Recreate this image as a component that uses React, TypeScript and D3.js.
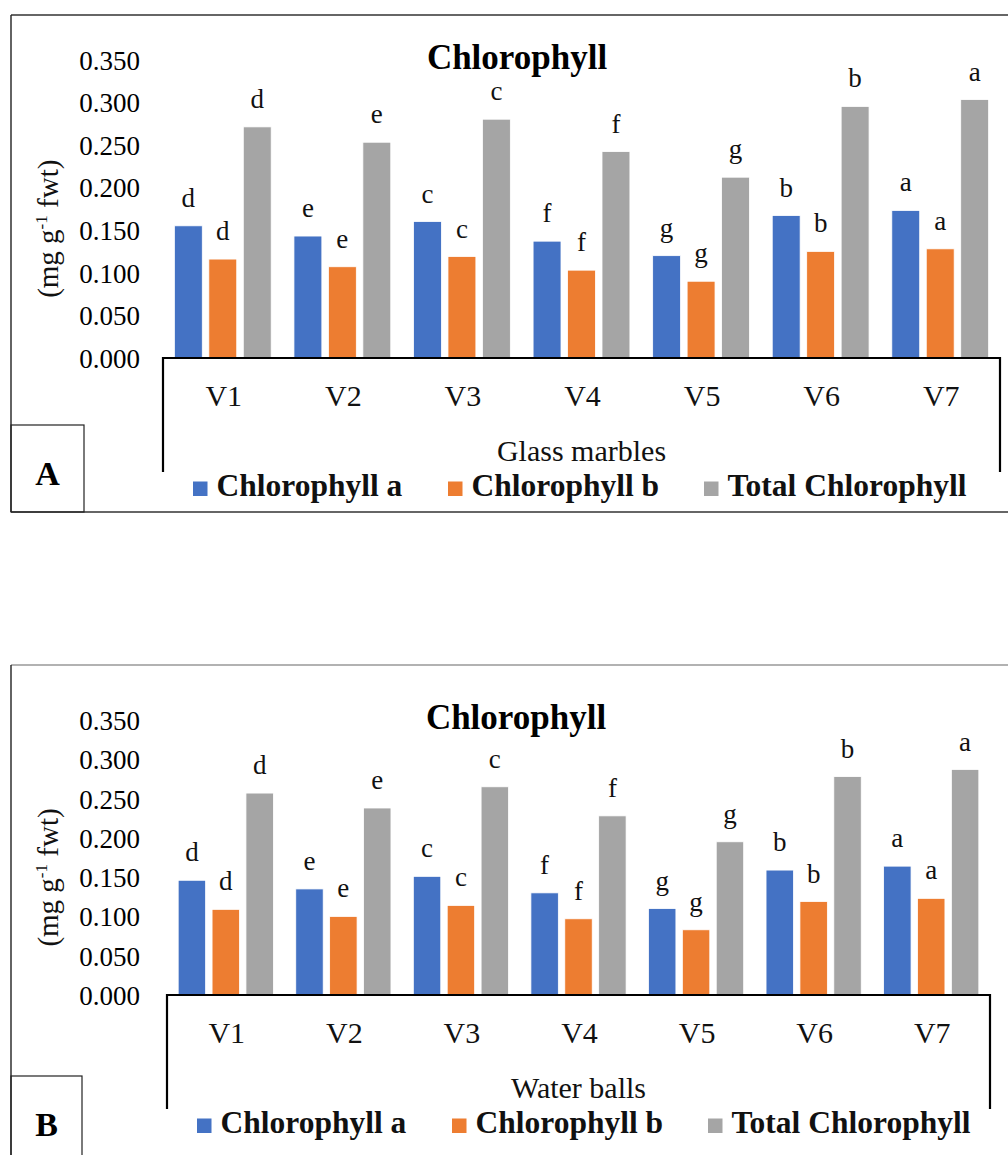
import React, { useRef, useEffect } from 'react';
import * as d3 from 'd3';

// --- data ---
const categories = ['V1', 'V2', 'V3', 'V4', 'V5', 'V6', 'V7'];
const seriesNames = ['Chlorophyll a', 'Chlorophyll b', 'Total Chlorophyll'];
const seriesColors = ['#4472C4', '#ED7D31', '#A5A5A5'];
const yTicks = [0, 0.05, 0.1, 0.15, 0.2, 0.25, 0.3, 0.35];
const letters = ['d', 'e', 'c', 'f', 'g', 'b', 'a'];

// panel A: glass marbles
const glassChlA = [0.155, 0.143, 0.160, 0.137, 0.120, 0.167, 0.173];
const glassChlB = [0.116, 0.107, 0.119, 0.103, 0.090, 0.125, 0.128];
const glassTotal = [0.271, 0.253, 0.280, 0.242, 0.212, 0.295, 0.303];

// panel B: water balls
const waterChlA = [0.146, 0.135, 0.151, 0.130, 0.110, 0.159, 0.164];
const waterChlB = [0.109, 0.100, 0.114, 0.097, 0.083, 0.119, 0.123];
const waterTotal = [0.257, 0.238, 0.265, 0.228, 0.195, 0.278, 0.287];

const FONT = '"Liberation Serif", "Times New Roman", Times, serif';

const panels = [
    {
        tag: 'A', xLabel: 'Glass marbles', series: [glassChlA, glassChlB, glassTotal],
        top: 15, bottom: 512, yZero: 358, yMax: 59.5, xLeft: 163, xRight: 1000,
        tagBoxTop: 425, tagBoxRight: 84, titleX: 517, legendX: 193, topStroke: '#333'
    },
    {
        tag: 'B', xLabel: 'Water balls', series: [waterChlA, waterChlB, waterTotal],
        top: 665, bottom: 1175, yZero: 995, yMax: 720, xLeft: 167, xRight: 990,
        tagBoxTop: 1076, tagBoxRight: 82, titleX: 516, legendX: 197, topStroke: '#999'
    }
];

const drawPanel = (svg, p) => {
    const g = svg.append('g');

    const y = d3.scaleLinear().domain([0, 0.35]).range([p.yZero, p.yMax]);
    const x0 = d3.scaleBand().domain(categories).range([p.xLeft, p.xRight]).padding(0);
    const x1 = d3.scaleBand().domain(seriesNames).range([0, x0.bandwidth()])
        .paddingInner(0.19).paddingOuter(0.33);

    // outer frame (open on the right)
    g.append('line').attr('x1', 11).attr('x2', 1008).attr('y1', p.top).attr('y2', p.top)
        .attr('stroke', p.topStroke).attr('stroke-width', 1.4);
    g.append('line').attr('x1', 11).attr('x2', 11).attr('y1', p.top).attr('y2', p.bottom)
        .attr('stroke', '#222').attr('stroke-width', 1.4);
    g.append('line').attr('x1', 11).attr('x2', 1008).attr('y1', p.bottom).attr('y2', p.bottom)
        .attr('stroke', '#333').attr('stroke-width', 1.4);

    // panel tag box
    g.append('rect').attr('x', 11).attr('y', p.tagBoxTop)
        .attr('width', p.tagBoxRight - 11).attr('height', p.bottom - p.tagBoxTop)
        .attr('fill', 'none').attr('stroke', '#222').attr('stroke-width', 1.2);
    g.append('text').attr('x', (11 + p.tagBoxRight) / 2).attr('y', p.tagBoxTop + 60)
        .attr('text-anchor', 'middle').attr('font-family', FONT).attr('font-weight', 'bold')
        .attr('font-size', 34).text(p.tag);

    // title
    g.append('text').attr('x', p.titleX).attr('y', p.yMax + 9)
        .attr('text-anchor', 'middle').attr('font-family', FONT).attr('font-weight', 'bold')
        .attr('font-size', 35).text('Chlorophyll');

    // y tick labels
    g.selectAll('.ytick').data(yTicks).enter().append('text')
        .attr('x', 140).attr('y', d => y(d) + 10)
        .attr('text-anchor', 'end').attr('font-family', FONT).attr('font-size', 27)
        .attr('fill', '#000').text(d => d3.format('.3f')(d));

    // y axis title
    const yMid = (p.yZero + p.yMax) / 2 + 20;
    const yl = g.append('text').attr('transform', `translate(58, ${yMid}) rotate(-90)`)
        .attr('text-anchor', 'middle').attr('font-family', FONT).attr('font-size', 29).attr('fill', '#111');
    yl.append('tspan').text('(mg g');
    yl.append('tspan').attr('dy', -11).attr('font-size', 17).text('-1');
    yl.append('tspan').attr('dy', 11).text(' fwt)');

    // bars
    categories.forEach((cat, ci) => {
        const gx = x0(cat);
        seriesNames.forEach((s, si) => {
            const v = p.series[si][ci];
            const bx = gx + x1(s);
            g.append('rect').attr('x', bx).attr('y', y(v))
                .attr('width', x1.bandwidth()).attr('height', y(0) - y(v))
                .attr('fill', seriesColors[si]).attr('stroke', '#fff').attr('stroke-width', 0.8);
            g.append('text').attr('x', bx + x1.bandwidth() / 2).attr('y', y(v) - 19)
                .attr('text-anchor', 'middle').attr('font-family', FONT).attr('font-size', 27)
                .attr('fill', '#111').text(letters[ci]);
        });
        // category label
        g.append('text').attr('x', gx + x0.bandwidth() / 2 + 1).attr('y', y(0) + 48)
            .attr('text-anchor', 'middle').attr('font-family', FONT).attr('font-size', 30)
            .attr('fill', '#111').text(cat);
    });

    // category axis box
    const boxBottom = y(0) + 114;
    g.append('path')
        .attr('d', `M${p.xLeft},${boxBottom}V${y(0)}H${p.xRight}V${boxBottom}`)
        .attr('fill', 'none').attr('stroke', '#000').attr('stroke-width', 2.2);

    // x axis title
    g.append('text').attr('x', (p.xLeft + p.xRight) / 2 - 0).attr('y', y(0) + 103)
        .attr('text-anchor', 'middle').attr('font-family', FONT).attr('font-size', 30)
        .attr('fill', '#111').text(p.xLabel);

    // legend
    const legendOffsets = [0, 255, 511];
    const ly = y(0) + 138;
    seriesNames.forEach((s, si) => {
        const lx = p.legendX + legendOffsets[si];
        g.append('rect').attr('x', lx).attr('y', ly - 14.5).attr('width', 14.5).attr('height', 14.5)
            .attr('fill', seriesColors[si]);
        g.append('text').attr('x', lx + 23.5).attr('y', ly)
            .attr('font-family', FONT).attr('font-weight', 'bold').attr('font-size', 31.5)
            .attr('fill', '#111').text(s);
    });
};

const App = () => {
    const svgRef = useRef(null);

    useEffect(() => {
        if (!svgRef.current) return;
        const svg = d3.select(svgRef.current);
        svg.selectAll('*').remove();
        svg.append('rect').attr('width', 1008).attr('height', 1155).attr('fill', '#fff');
        panels.forEach(p => drawPanel(svg, p));
    }, []);

    return (
        <svg ref={svgRef} width={1008} height={1155}
            style={{ position: 'absolute', left: 0, top: 0, display: 'block' }} />
    );
};

export default App;
